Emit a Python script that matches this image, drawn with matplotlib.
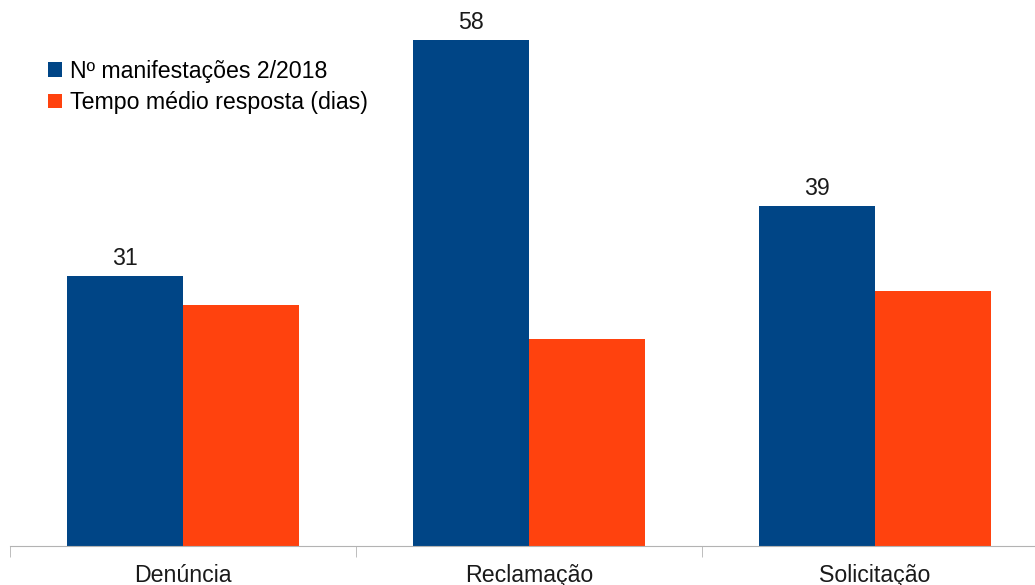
import numpy as np
import matplotlib.pyplot as plt

plt.rcParams['font.family'] = ['Liberation Sans', 'DejaVu Sans']

categorias = ["Denúncia", "Reclamação", "Solicitação"]
manifestacoes = [31, 58, 39]
tempo_medio = [27.6, 23.7, 29.2]
series = ["Nº manifestações 2/2018", "Tempo médio resposta (dias)"]

AZUL = "#004586"
LARANJA = "#ff420e"
FS = 16.7

fig = plt.figure(figsize=(10.35, 5.85), dpi=100)
ax = fig.add_axes([10 / 1035, 39 / 585, 1038 / 1035, 546 / 585])

x = np.arange(len(categorias))
w = 116 / 346
b1 = ax.bar(x - w / 2, manifestacoes, w, color=AZUL, label=series[0])
b2 = ax.bar(x + w / 2, tempo_medio, w, color=LARANJA, label=series[1])

for bar, v in zip(b1, manifestacoes):
    ax.annotate(str(v), (bar.get_x() + bar.get_width() / 2, bar.get_height()),
                xytext=(0, 4), textcoords="offset points",
                ha="center", va="bottom", fontsize=FS, color="#1a1a1a")

ax.set_xlim(-0.5, 2.5)
ax.set_ylim(0, 546 / 8.724)

for s in ["top", "right", "left"]:
    ax.spines[s].set_visible(False)
ax.spines["bottom"].set_color("#b3b3b3")
ax.set_yticks([])

ax.set_xticks(x)
ax.set_xticklabels(categorias, fontsize=FS, color="#1a1a1a")
ax.tick_params(axis="x", which="major", length=0, pad=13)
ax.set_xticks([-0.5, 0.5, 1.5, 2.5], minor=True)
ax.tick_params(axis="x", which="minor", length=8, color="#b3b3b3")

leg = ax.legend(loc="upper left", bbox_to_anchor=(38 / 1038, 1 - 60 / 546), frameon=False,
                fontsize=FS, handlelength=0.6, handleheight=0.6, borderpad=0,
                handletextpad=0.35, labelspacing=0.35, borderaxespad=0)

fig.savefig("out.png", dpi=100)
